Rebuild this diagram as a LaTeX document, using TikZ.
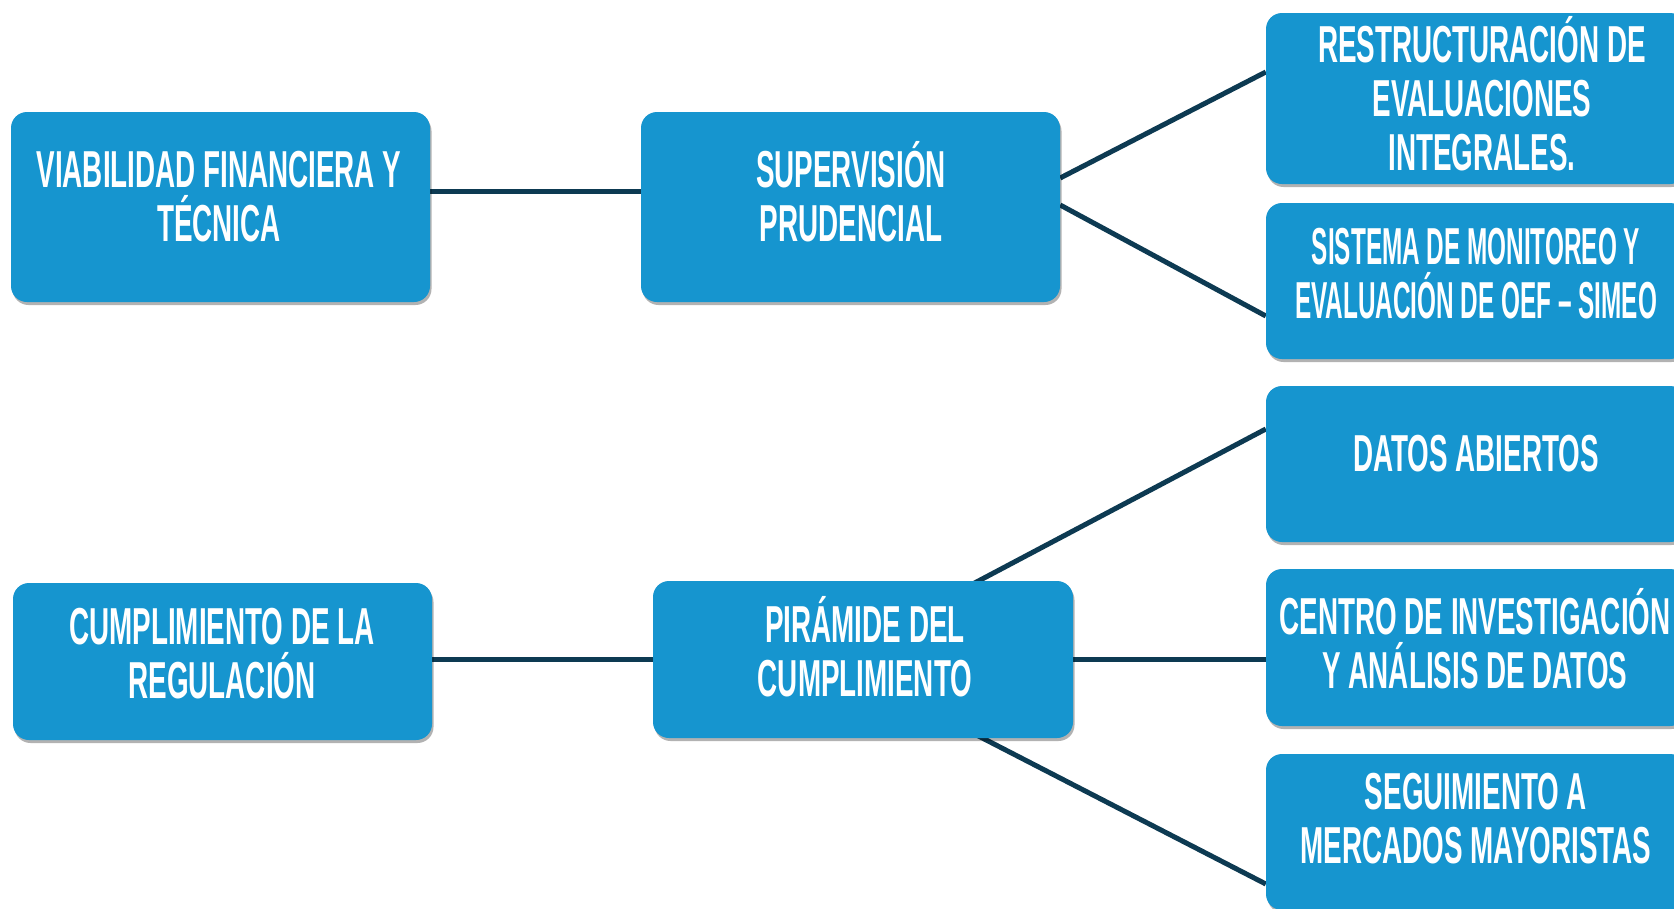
\documentclass[tikz,border=0pt]{standalone}
\usepackage{fontspec}
\newfontfamily\boxfont{Liberation Sans}[FakeStretch=0.535]
\newfontfamily\boxfontnarrow{Liberation Sans}[FakeStretch=0.468]
\usetikzlibrary{shadows,backgrounds}
\definecolor{boxblue}{RGB}{22,149,207}
\definecolor{linenavy}{RGB}{13,58,82}
\begin{document}
\begin{tikzpicture}[x=1pt,y=-1pt,
  box/.style={draw=none, fill=boxblue, rounded corners=16pt, inner sep=0pt,
    drop shadow={shadow xshift=1.5pt, shadow yshift=-3pt, opacity=0.3, fill=black}},
  lbl/.style={text=white, font=\boxfont\bfseries\fontsize{52}{54}\selectfont,
    align=center, inner sep=0pt, execute at begin node={\vphantom{Á}}},
  lblnarrow/.style={lbl, font=\boxfontnarrow\bfseries\fontsize{52}{54}\selectfont},
  conn/.style={draw=linenavy, line width=5pt}]
\useasboundingbox (0,0) rectangle (1674,908);
\clip (0,0) rectangle (1674,908);
% boxes
\node[box, minimum width=419pt, minimum height=190pt] (viab) at (220.5,207) {};
\node[box, minimum width=419pt, minimum height=190pt] (superv) at (850.5,207) {};
\node[box, minimum width=420pt, minimum height=171pt] (restr) at (1476,98.5) {};
\node[box, minimum width=420pt, minimum height=156pt] (sist) at (1476,281) {};
\node[box, minimum width=420pt, minimum height=156pt] (datos) at (1476,464) {};
\node[box, minimum width=420pt, minimum height=157pt] (centro) at (1476,647.5) {};
\node[box, minimum width=420pt, minimum height=156pt] (segui) at (1476,832) {};
\node[box, minimum width=419pt, minimum height=157pt] (cumpl) at (222.5,661.5) {};
\node[box, minimum width=420pt, minimum height=157pt] (pyr) at (863,659.5) {};
% labels
\node[lbl] (viabt) at (219,197) {VIABILIDAD FINANCIERA Y\\TÉCNICA};
\node[lbl] (supervt) at (851,191.5) {SUPERVISIÓN\\PRUDENCIAL};
\node[lbl] (restrt) at (1482,93.5) {RESTRUCTURACIÓN DE\\EVALUACIONES\\INTEGRALES.};
\node[lblnarrow] (sistt) at (1476,273.5) {SISTEMA DE MONITOREO Y\\EVALUACIÓN DE OEF – SIMEO};
\node[lbl] (datost) at (1476,449) {DATOS ABIERTOS};
\node[lbl] (centrot) at (1475,638.5) {CENTRO DE INVESTIGACIÓN\\Y ANÁLISIS DE DATOS};
\node[lbl] (seguit) at (1476,818.5) {SEGUIMIENTO A\\MERCADOS MAYORISTAS};
\node[lbl] (cumplt) at (222,654) {CUMPLIMIENTO DE LA\\REGULACIÓN};
\node[lbl] (pyrt) at (865,647) {PIRÁMIDE DEL\\CUMPLIMIENTO};
% connectors
\begin{scope}[on background layer]
\fill[white] (0,0) rectangle (1674,908);
\draw[conn] ([yshift=16pt]viab.east) -- ([yshift=16pt]superv.west);
\draw[conn] ([yshift=29pt]superv.east) -- ([yshift=26.5pt]restr.west);
\draw[conn] ([yshift=2pt]superv.east) -- ([yshift=-35pt]sist.west);
\draw[conn] ([yshift=2pt]cumpl.east) -- ([yshift=2pt]cumpl.east -| pyr.west);
\draw[conn] ([xshift=-33pt]pyr.center) -- ([yshift=35pt]datos.west);
\draw[conn] (pyr.east) -- (pyr.east -| centro.west);
\draw[conn] ([xshift=-33pt]pyr.center) -- ([yshift=-52pt]segui.west);
\end{scope}
\end{tikzpicture}
\end{document}
